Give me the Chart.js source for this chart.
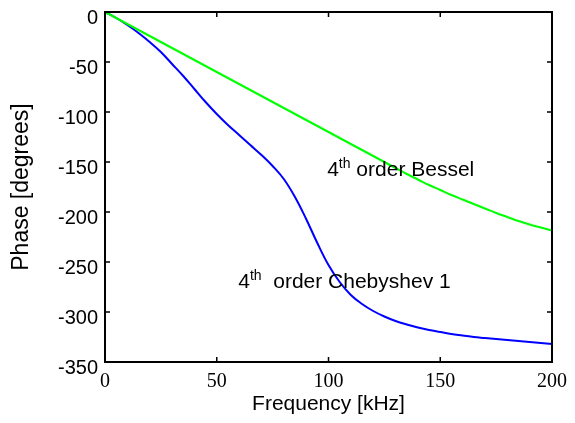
<!DOCTYPE html>
<html>
<head>
<meta charset="utf-8">
<script src="https://cdn.jsdelivr.net/npm/chart.js@4.4.1/dist/chart.umd.min.js"></script>
<style>
  html, body { margin: 0; padding: 0; background: #fff; }
  #wrap { width: 575px; height: 423px; }
</style>
</head>
<body>
<div id="wrap"><canvas id="phase-chart"></canvas></div>
<script>
// --- data (kHz, degrees) ---
const freqs = [0, 5, 10, 15, 20, 25, 30, 35, 40, 45, 50, 55, 60, 65, 70, 75, 80, 85, 90, 95,
    100, 105, 110, 115, 120, 125, 130, 135, 140, 145, 150, 155, 160, 165, 170, 175, 180, 185, 190, 195, 200];
const besselPhase = [0, -6, -12, -18, -24, -30, -36, -42, -48, -54, -60, -66, -72, -78, -84, -90, -96, -102, -108, -114,
    -120, -126, -132, -138, -144, -150, -156, -162, -167.5, -173, -178, -183, -187.5, -192, -196.5, -201, -205, -209, -212.5, -215.5, -218.5];
const chebyPhase = [0, -6, -13, -21, -30, -40, -52, -64, -77, -90, -102, -113, -123, -133, -143, -154, -167, -185, -207, -231,
    -253, -270, -283, -292, -299, -304.5, -309, -312.5, -315.5, -318, -320, -322, -323.5, -325, -326, -327, -328, -329, -330, -331, -332];
const xTicks = [0, 50, 100, 150, 200];
const yTicks = [0, -50, -100, -150, -200, -250, -300, -350];

const toPoints = (ys) => freqs.map((f, i) => ({ x: f, y: ys[i] }));

// text labels placed in data coordinates
const notes = [
    { x: 99.4, y: -158, sup: 'th', text: ' order Bessel' },
    { x: 59.6, y: -270, sup: 'th', text: '  order Chebyshev 1' }
];

const sansFont = "'Liberation Sans', Arial, sans-serif";

// frame + inward ticks on all four sides, like the original
const framePlugin = {
    id: 'frame',
    afterDatasetsDraw(chart) {
        const { ctx, chartArea: a, scales } = chart;
        ctx.save();
        ctx.strokeStyle = '#000';
        ctx.lineWidth = 2;
        ctx.strokeRect(a.left, a.top, a.right - a.left, a.bottom - a.top);
        ctx.lineWidth = 1.5;
        const len = 5;
        ctx.beginPath();
        xTicks.slice(1, -1).forEach(v => {
            const px = scales.x.getPixelForValue(v);
            ctx.moveTo(px, a.bottom); ctx.lineTo(px, a.bottom - len);
            ctx.moveTo(px, a.top); ctx.lineTo(px, a.top + len);
        });
        yTicks.slice(1, -1).forEach(v => {
            const py = scales.y.getPixelForValue(v);
            ctx.moveTo(a.left, py); ctx.lineTo(a.left + len, py);
            ctx.moveTo(a.right, py); ctx.lineTo(a.right - len, py);
        });
        ctx.stroke();

        // curve labels
        ctx.fillStyle = '#000';
        ctx.textBaseline = 'middle';
        notes.forEach(n => {
            let px = scales.x.getPixelForValue(n.x);
            const py = scales.y.getPixelForValue(n.y);
            ctx.font = '21px ' + sansFont;
            ctx.fillText('4', px, py);
            px += ctx.measureText('4').width;
            ctx.font = '14px ' + sansFont;
            ctx.fillText(n.sup, px, py - 6);
            px += ctx.measureText(n.sup).width;
            ctx.font = '21px ' + sansFont;
            ctx.fillText(n.text, px, py);
        });
        ctx.restore();
    }
};

new Chart(document.getElementById('phase-chart'), {
    type: 'line',
    data: {
        datasets: [
            {
                label: '4th order Bessel',
                data: toPoints(besselPhase),
                borderColor: '#00ff00',
                borderWidth: 2,
                pointRadius: 0,
                tension: 0.4,
                fill: false
            },
            {
                label: '4th order Chebyshev 1',
                data: toPoints(chebyPhase),
                borderColor: '#0000ff',
                borderWidth: 2,
                pointRadius: 0,
                tension: 0.4,
                fill: false
            }
        ]
    },
    options: {
        responsive: true,
        maintainAspectRatio: false,
        animation: false,
        layout: { padding: { top: 12, right: 23, left: 0, bottom: 0 } },
        plugins: {
            legend: { display: false },
            tooltip: { enabled: false }
        },
        scales: {
            x: {
                type: 'linear',
                min: 0,
                max: 200,
                afterBuildTicks: (s) => { s.ticks = xTicks.map(v => ({ value: v })); },
                afterFit: (s) => { s.height = 61; },
                grid: { display: false, drawTicks: false },
                border: { display: false },
                ticks: {
                    color: '#000',
                    padding: 8,
                    maxRotation: 0,
                    font: { family: "'Liberation Serif', 'Times New Roman', serif", size: 20 }
                },
                title: {
                    display: true,
                    text: 'Frequency [kHz]',
                    color: '#000',
                    padding: { top: 0, bottom: 6 },
                    font: { family: sansFont, size: 21 }
                }
            },
            y: {
                type: 'linear',
                min: -350,
                max: 0,
                afterBuildTicks: (s) => { s.ticks = yTicks.map(v => ({ value: v })); },
                afterFit: (s) => { s.width = 105; s.paddingTop = 0; s.paddingBottom = 0; },
                grid: { display: false, drawTicks: false },
                border: { display: false },
                ticks: {
                    color: '#000',
                    padding: 7,
                    labelOffset: 6,
                    font: { family: sansFont, size: 20 }
                },
                title: {
                    display: true,
                    text: 'Phase [degrees]',
                    color: '#000',
                    padding: { top: 8, bottom: 0 },
                    font: { family: sansFont, size: 23 }
                }
            }
        }
    },
    plugins: [framePlugin]
});
</script>
</body>
</html>
